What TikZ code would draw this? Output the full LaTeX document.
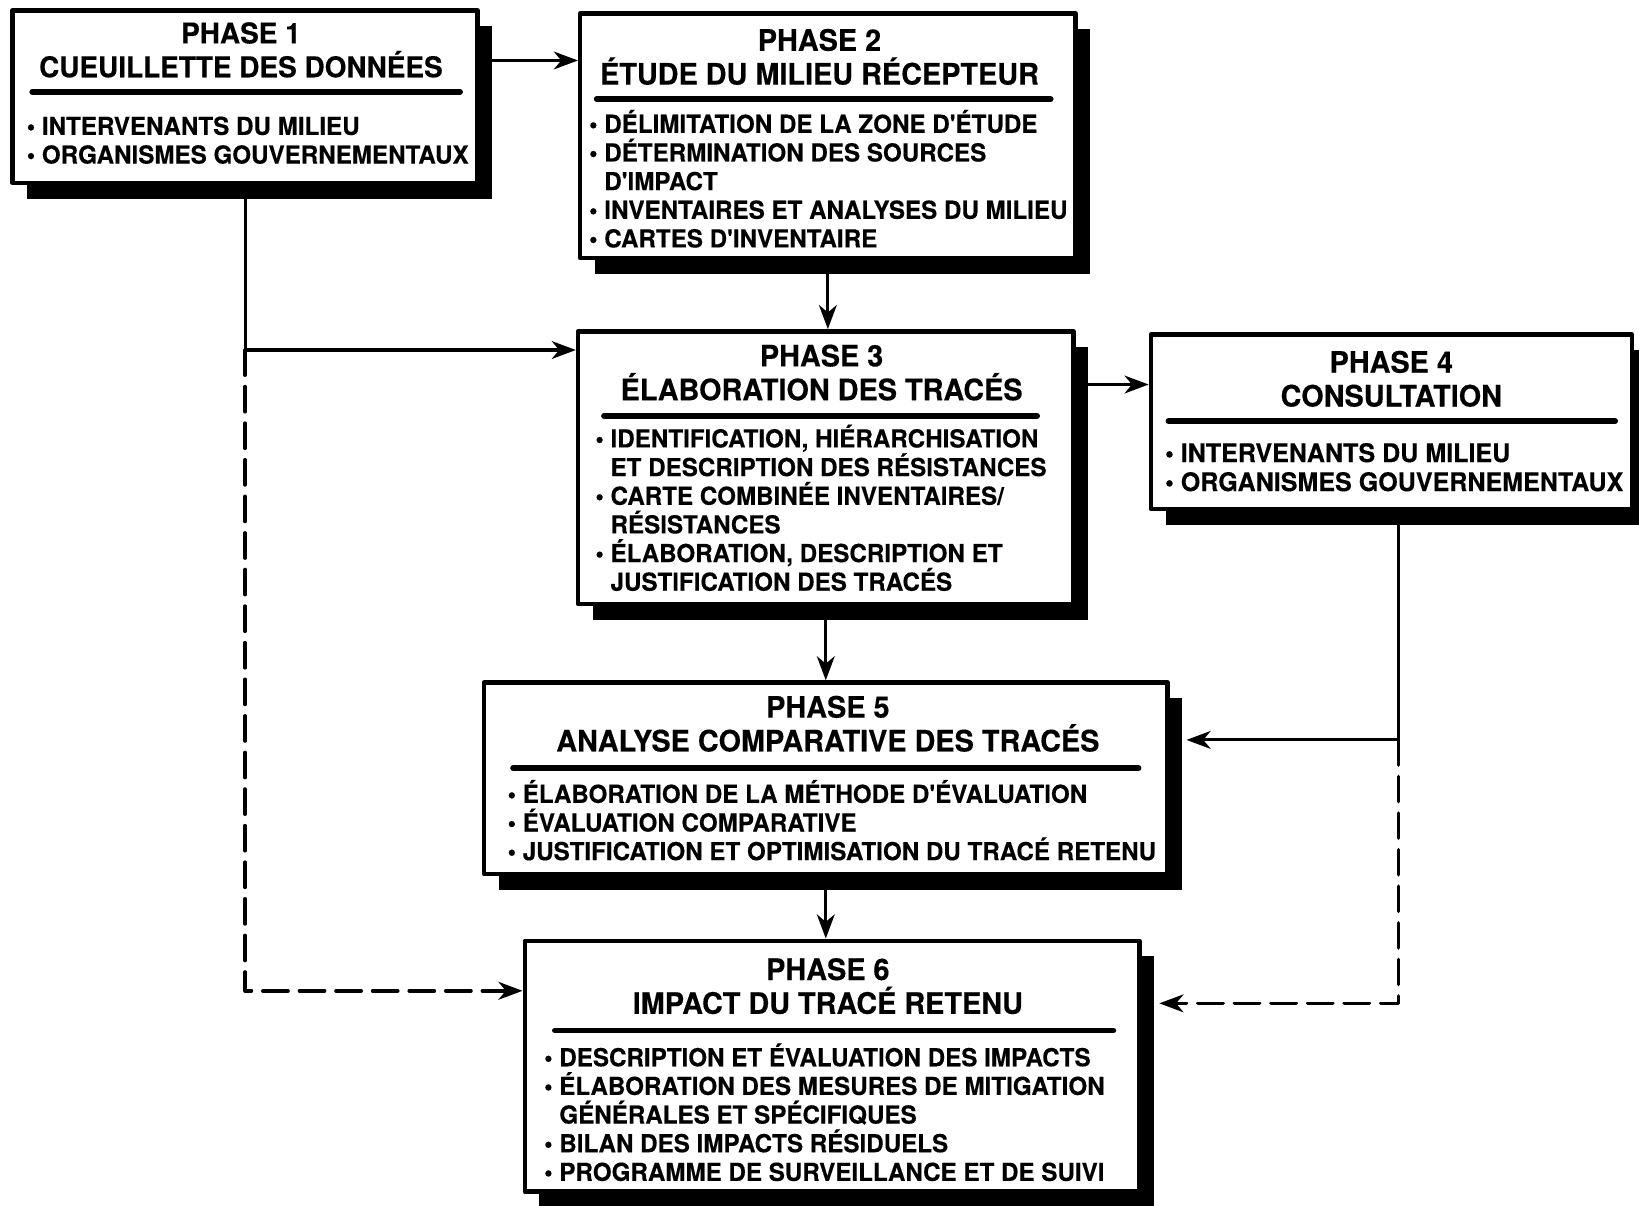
\documentclass[tikz,border=0pt]{standalone}
\usepackage{fontspec}
\usepackage{tikz}
\usetikzlibrary{calc}
\usetikzlibrary{arrows.meta}
\usetikzlibrary{shadows}
\newfontfamily\heros{TeX Gyre Heros}[FakeStretch=0.975,BoldFeatures={FakeBold=0.3}]
\lineskiplimit=-10pt
\newcommand{\puce}{\textbullet\ }
\newcommand{\suite}{\hphantom{\textbullet\ }}
\newcommand{\haut}{\rule{0pt}{0.25cm}}
\tikzstyle{boite}=[draw,line width=1.2pt,fill=white,inner sep=0pt,drop shadow={shadow xshift=0.14cm,shadow yshift=-0.15cm,fill=black,opacity=1}]
\tikzstyle{entete}=[anchor=north,align=center,inner sep=0pt,font=\heros\bfseries\fontsize{8.05}{9.2}\selectfont]
\tikzstyle{liste}=[anchor=north west,align=left,inner sep=0pt,font=\heros\bfseries\fontsize{6.75}{7.8}\selectfont]
\tikzstyle{regle}=[line width=1.6pt]
\tikzstyle{fleche}=[->,line width=0.85pt]
\tikzstyle{tirets}=[->,line width=1pt,dash pattern=on 0.24cm off 0.11cm]

\begin{document}
\begin{tikzpicture}[line cap=round,line join=round,>={Stealth[length=0.23cm,width=0.17cm,inset=0.07cm]},x=1.0cm,y=1.0cm]
\useasboundingbox (0,0) rectangle (15.68,11.53);
% phase 1
\node[boite,minimum width=4.45cm,minimum height=1.65cm] (p1) at (2.345,10.605) {};
\node[entete,font=\heros\bfseries\fontsize{7.8}{9.2}\selectfont] (t1) at ($(p1.north)+(-0.04,-0.08)$) {\haut PHASE 1\\CUEUILLETTE DES DONNÉES};
\draw[regle] ($(p1.north west)+(0.21,-0.80)$) -- ($(p1.north east)+(-0.19,-0.80)$);
\node[liste] (l1) at ($(p1.north west)+(0.15,-0.955)$) {\haut\puce INTERVENANTS DU MILIEU\\
\puce ORGANISMES GOUVERNEMENTAUX};
% phase 2
\node[boite,minimum width=4.74cm,minimum height=2.34cm] (p2) at (7.92,10.23) {};
\node[entete] (t2) at ($(p2.north)+(-0.08,-0.12)$) {\haut PHASE 2\\ÉTUDE DU MILIEU RÉCEPTEUR};
\draw[regle] ($(p2.north west)+(0.18,-0.84)$) -- ($(p2.north east)+(-0.26,-0.84)$);
\node[liste] (l2) at ($(p2.north west)+(0.10,-0.905)$) {\haut\puce DÉLIMITATION DE LA ZONE D'ÉTUDE\\
\puce DÉTERMINATION DES SOURCES\\
\suite D'IMPACT\\
\puce INVENTAIRES ET ANALYSES DU MILIEU\\
\puce CARTES D'INVENTAIRE};
% phase 3
\node[boite,minimum width=4.74cm,minimum height=2.61cm] (p3) at (7.90,7.055) {};
\node[entete] (t3) at ($(p3.north)+(-0.04,-0.10)$) {\haut PHASE 3\\ÉLABORATION DES TRACÉS};
\draw[regle] ($(p3.north west)+(0.27,-0.83)$) -- ($(p3.north east)+(-0.37,-0.83)$);
\node[liste] (l3) at ($(p3.north west)+(0.18,-0.875)$) {\haut\puce IDENTIFICATION, HIÉRARCHISATION\\
\suite ET DESCRIPTION DES RÉSISTANCES\\
\puce CARTE COMBINÉE INVENTAIRES/\\
\suite RÉSISTANCES\\
\puce ÉLABORATION, DESCRIPTION ET\\
\suite JUSTIFICATION DES TRACÉS};
% phase 4
\node[boite,minimum width=4.60cm,minimum height=1.67cm] (p4) at (13.31,7.495) {};
\node[entete] (t4) at ($(p4.north)+(0,-0.13)$) {\haut PHASE 4\\CONSULTATION};
\draw[regle] ($(p4.north west)+(0.19,-0.85)$) -- ($(p4.north east)+(-0.18,-0.85)$);
\node[liste,font=\heros\bfseries\fontsize{7.0}{7.9}\selectfont] (l4) at ($(p4.north west)+(0.15,-0.985)$) {\haut\puce INTERVENANTS DU MILIEU\\
\puce ORGANISMES GOUVERNEMENTAUX};
% phase 5
\node[boite,minimum width=6.54cm,minimum height=1.83cm] (p5) at (7.90,4.085) {};
\node[entete] (t5) at ($(p5.north)+(0.02,-0.10)$) {\haut PHASE 5\\ANALYSE COMPARATIVE DES TRACÉS};
\draw[regle] ($(p5.north west)+(0.30,-0.84)$) -- ($(p5.north east)+(-0.30,-0.84)$);
\node[liste] (l5) at ($(p5.north west)+(0.24,-0.915)$) {\haut\puce ÉLABORATION DE LA MÉTHODE D'ÉVALUATION\\
\puce ÉVALUATION COMPARATIVE\\
\puce JUSTIFICATION ET OPTIMISATION DU TRACÉ RETENU};
% phase 6
\node[boite,minimum width=5.88cm,minimum height=2.40cm] (p6) at (7.96,1.33) {};
\node[entete] (t6) at ($(p6.north)+(-0.04,-0.14)$) {\haut PHASE 6\\IMPACT DU TRACÉ RETENU};
\draw[regle] ($(p6.north west)+(0.31,-0.88)$) -- ($(p6.north east)+(-0.27,-0.88)$);
\node[liste] (l6) at ($(p6.north west)+(0.20,-0.965)$) {\haut\puce DESCRIPTION ET ÉVALUATION DES IMPACTS\\
\puce ÉLABORATION DES MESURES DE MITIGATION\\
\suite GÉNÉRALES ET SPÉCIFIQUES\\
\puce BILAN DES IMPACTS RÉSIDUELS\\
\puce PROGRAMME DE SURVEILLANCE ET DE SUIVI};
% liens
\draw[fleche] ($(p1.north east)+(0,-0.50)$) coordinate (k0) -- (k0 -| p2.west);
\coordinate (k1) at ($(p3.north west)+(0,-0.20)$);
\coordinate (k2) at ($(p6.north west)+(0,-0.50)$);
\draw[fleche] (p1.south) |- (k1);
\draw[tirets] (p1.south |- k1) |- (k2);
\draw[fleche] (p2.south) -- (p2.south |- p3.north);
\draw[fleche] ($(p3.north east)+(0,-0.53)$) coordinate (k5) -- (k5 -| p4.west);
\draw[fleche] (p3.south) -- (p3.south |- p5.north);
\draw[fleche] (p5.south) -- (p5.south |- p6.north);
\coordinate (d4) at ($(p4.south)+(0.07,0)$);
\coordinate (k3) at ($(p5.north east)+(0,-0.57)$);
\coordinate (k4) at ($(p6.north east)+(0,-0.62)$);
\draw[fleche,shorten >=0.16cm] (d4) |- (k3);
\draw[tirets,shorten >=0.17cm] (d4 |- k3) |- (k4);
\end{tikzpicture}
\end{document}
